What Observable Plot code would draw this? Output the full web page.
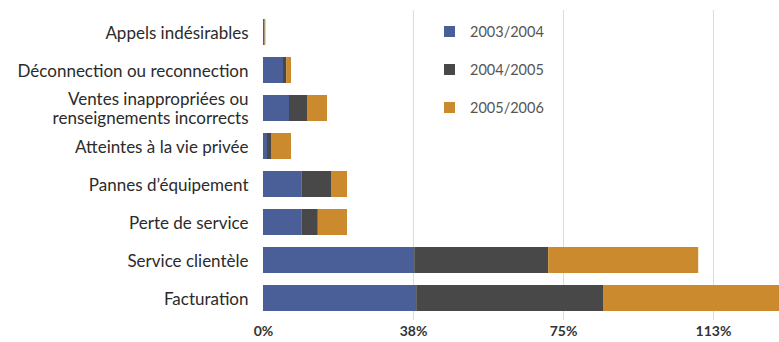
<!DOCTYPE html>
<html>
<head>
<meta charset="utf-8">
<script src="https://cdn.jsdelivr.net/npm/d3@7"></script>
<script src="https://cdn.jsdelivr.net/npm/@observablehq/plot@0.6"></script>
<style>
  html, body { margin: 0; padding: 0; background: #fff; }
  #wrap { position: relative; width: 779px; height: 342px; font-family: Lato, "Open Sans", sans-serif; }
  #legend { position: absolute; left: 444px; top: 12px; }
  .item { display: flex; align-items: center; height: 38.4px; font-size: 14.5px; color: #555; }
  .sw { width: 11px; height: 11px; margin-right: 15px; }
</style>
</head>
<body>
<div id="wrap"><div id="legend"></div></div>
<script>
const categories = [
  "Appels indésirables",
  "Déconnection ou reconnection",
  "Ventes inappropriées ou\nrenseignements incorrects",
  "Atteintes à la vie privée",
  "Pannes d’équipement",
  "Perte de service",
  "Service clientèle",
  "Facturation"
];
const seriesNames = ["2003/2004", "2004/2005", "2005/2006"];
const seriesColors = ["#4a5f98", "#484848", "#cb8a2e"];
const v2003 = [0.3, 5.0, 6.5, 1.0, 9.7, 9.7, 37.8, 38.3];
const v2004 = [0.1, 0.8, 4.5, 1.0, 7.3, 4.0, 33.5, 46.7];
const v2005 = [0.2, 1.2, 5.0, 5.0, 4.0, 7.3, 37.5, 44.0];
const xTicks = [0, 37.5, 75, 112.5];
const xTickLabels = ["0%", "38%", "75%", "113%"];
const gridTicks = [37.5, 75, 112.5];

const allValues = [v2003, v2004, v2005];
const data = [];
seriesNames.forEach((s, i) => {
  categories.forEach((c, j) => data.push({category: c, series: s, value: allValues[i][j]}));
});

const chart = Plot.plot({
  width: 779,
  height: 342,
  marginLeft: 263,
  marginRight: 0,
  marginTop: 10,
  marginBottom: 22,
  style: {fontFamily: "Lato, 'Open Sans', sans-serif", background: "#fff"},
  x: {domain: [0, 129], axis: null},
  y: {domain: categories, paddingInner: 0.32, paddingOuter: 0.2, axis: null},
  color: {domain: seriesNames, range: seriesColors},
  marks: [
    Plot.ruleX(gridTicks, {stroke: "#dcdcdc", strokeWidth: 1}),
    Plot.barX(data, {x: "value", y: "category", fill: "series", clip: true}),
    Plot.axisY({label: null, tickSize: 0, tickPadding: 15, fontSize: 17, fill: "#2b2b2b", lineHeight: 1.12}),
    Plot.axisX({label: null, ticks: xTicks, tickSize: 0, tickPadding: 6, fontSize: 14, fill: "#333", fontWeight: "bold",
      tickFormat: d => xTickLabels[xTicks.indexOf(d)]})
  ]
});
document.getElementById("wrap").prepend(chart);

const legend = document.getElementById("legend");
seriesNames.forEach((s, i) => {
  const item = document.createElement("div");
  item.className = "item";
  const sw = document.createElement("span");
  sw.className = "sw";
  sw.style.background = seriesColors[i];
  const t = document.createElement("span");
  t.textContent = s;
  item.append(sw, t);
  legend.append(item);
});
</script>
</body>
</html>
